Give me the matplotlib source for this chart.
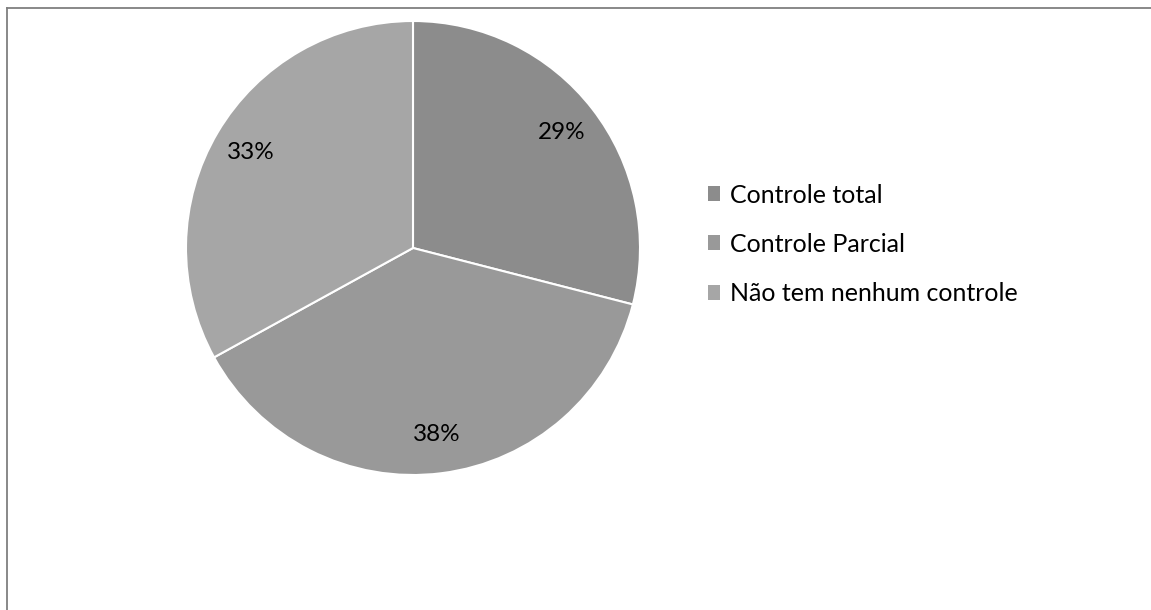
import matplotlib
matplotlib.use("Agg")
import matplotlib.pyplot as plt
from matplotlib.lines import Line2D

categories = ["Controle total", "Controle Parcial", "Não tem nenhum controle"]
values = [29, 38, 33]
colors = ["#8c8c8c", "#999999", "#a6a6a6"]

plt.rcParams['font.family'] = ['Lato', 'DejaVu Sans']

W, H = 1151, 610
fig = plt.figure(figsize=(W / 100, H / 100), dpi=100)
fig.patch.set_facecolor("white")

# border lines (top and left)
fig.add_artist(Line2D([7.5 / W, 1.0], [1 - 7.5 / H, 1 - 7.5 / H], color="#7f7f7f", lw=1.3))
fig.add_artist(Line2D([7.5 / W, 7.5 / W], [0, 1 - 7.5 / H], color="#7f7f7f", lw=1.3))

cx, cy, r = 413, 248, 227
ax = fig.add_axes([(cx - r) / W, 1 - (cy + r) / H, 2 * r / W, 2 * r / H])
wedges, texts, autotexts = ax.pie(
    values, colors=colors, startangle=90, counterclock=False,
    autopct=lambda p: f"{p:.0f}%", pctdistance=0.83, radius=1.0,
    wedgeprops=dict(edgecolor="white", linewidth=1.5),
    textprops=dict(fontsize=17.5, color="black"),
)
ax.set_xlim(-1, 1)
ax.set_ylim(-1, 1)
ax.set_aspect("equal")

handles = [plt.Rectangle((0, 0), 1, 1, facecolor=c, edgecolor="none") for c in colors]
leg = fig.legend(
    handles, categories, loc="upper left",
    bbox_to_anchor=(695 / W, 1 - 171 / H), frameon=False,
    fontsize=18, handlelength=0.5, handleheight=0.55,
    handletextpad=0.38, labelspacing=1.05, borderpad=0,
)

fig.savefig("out.png", dpi=100, facecolor="white")
